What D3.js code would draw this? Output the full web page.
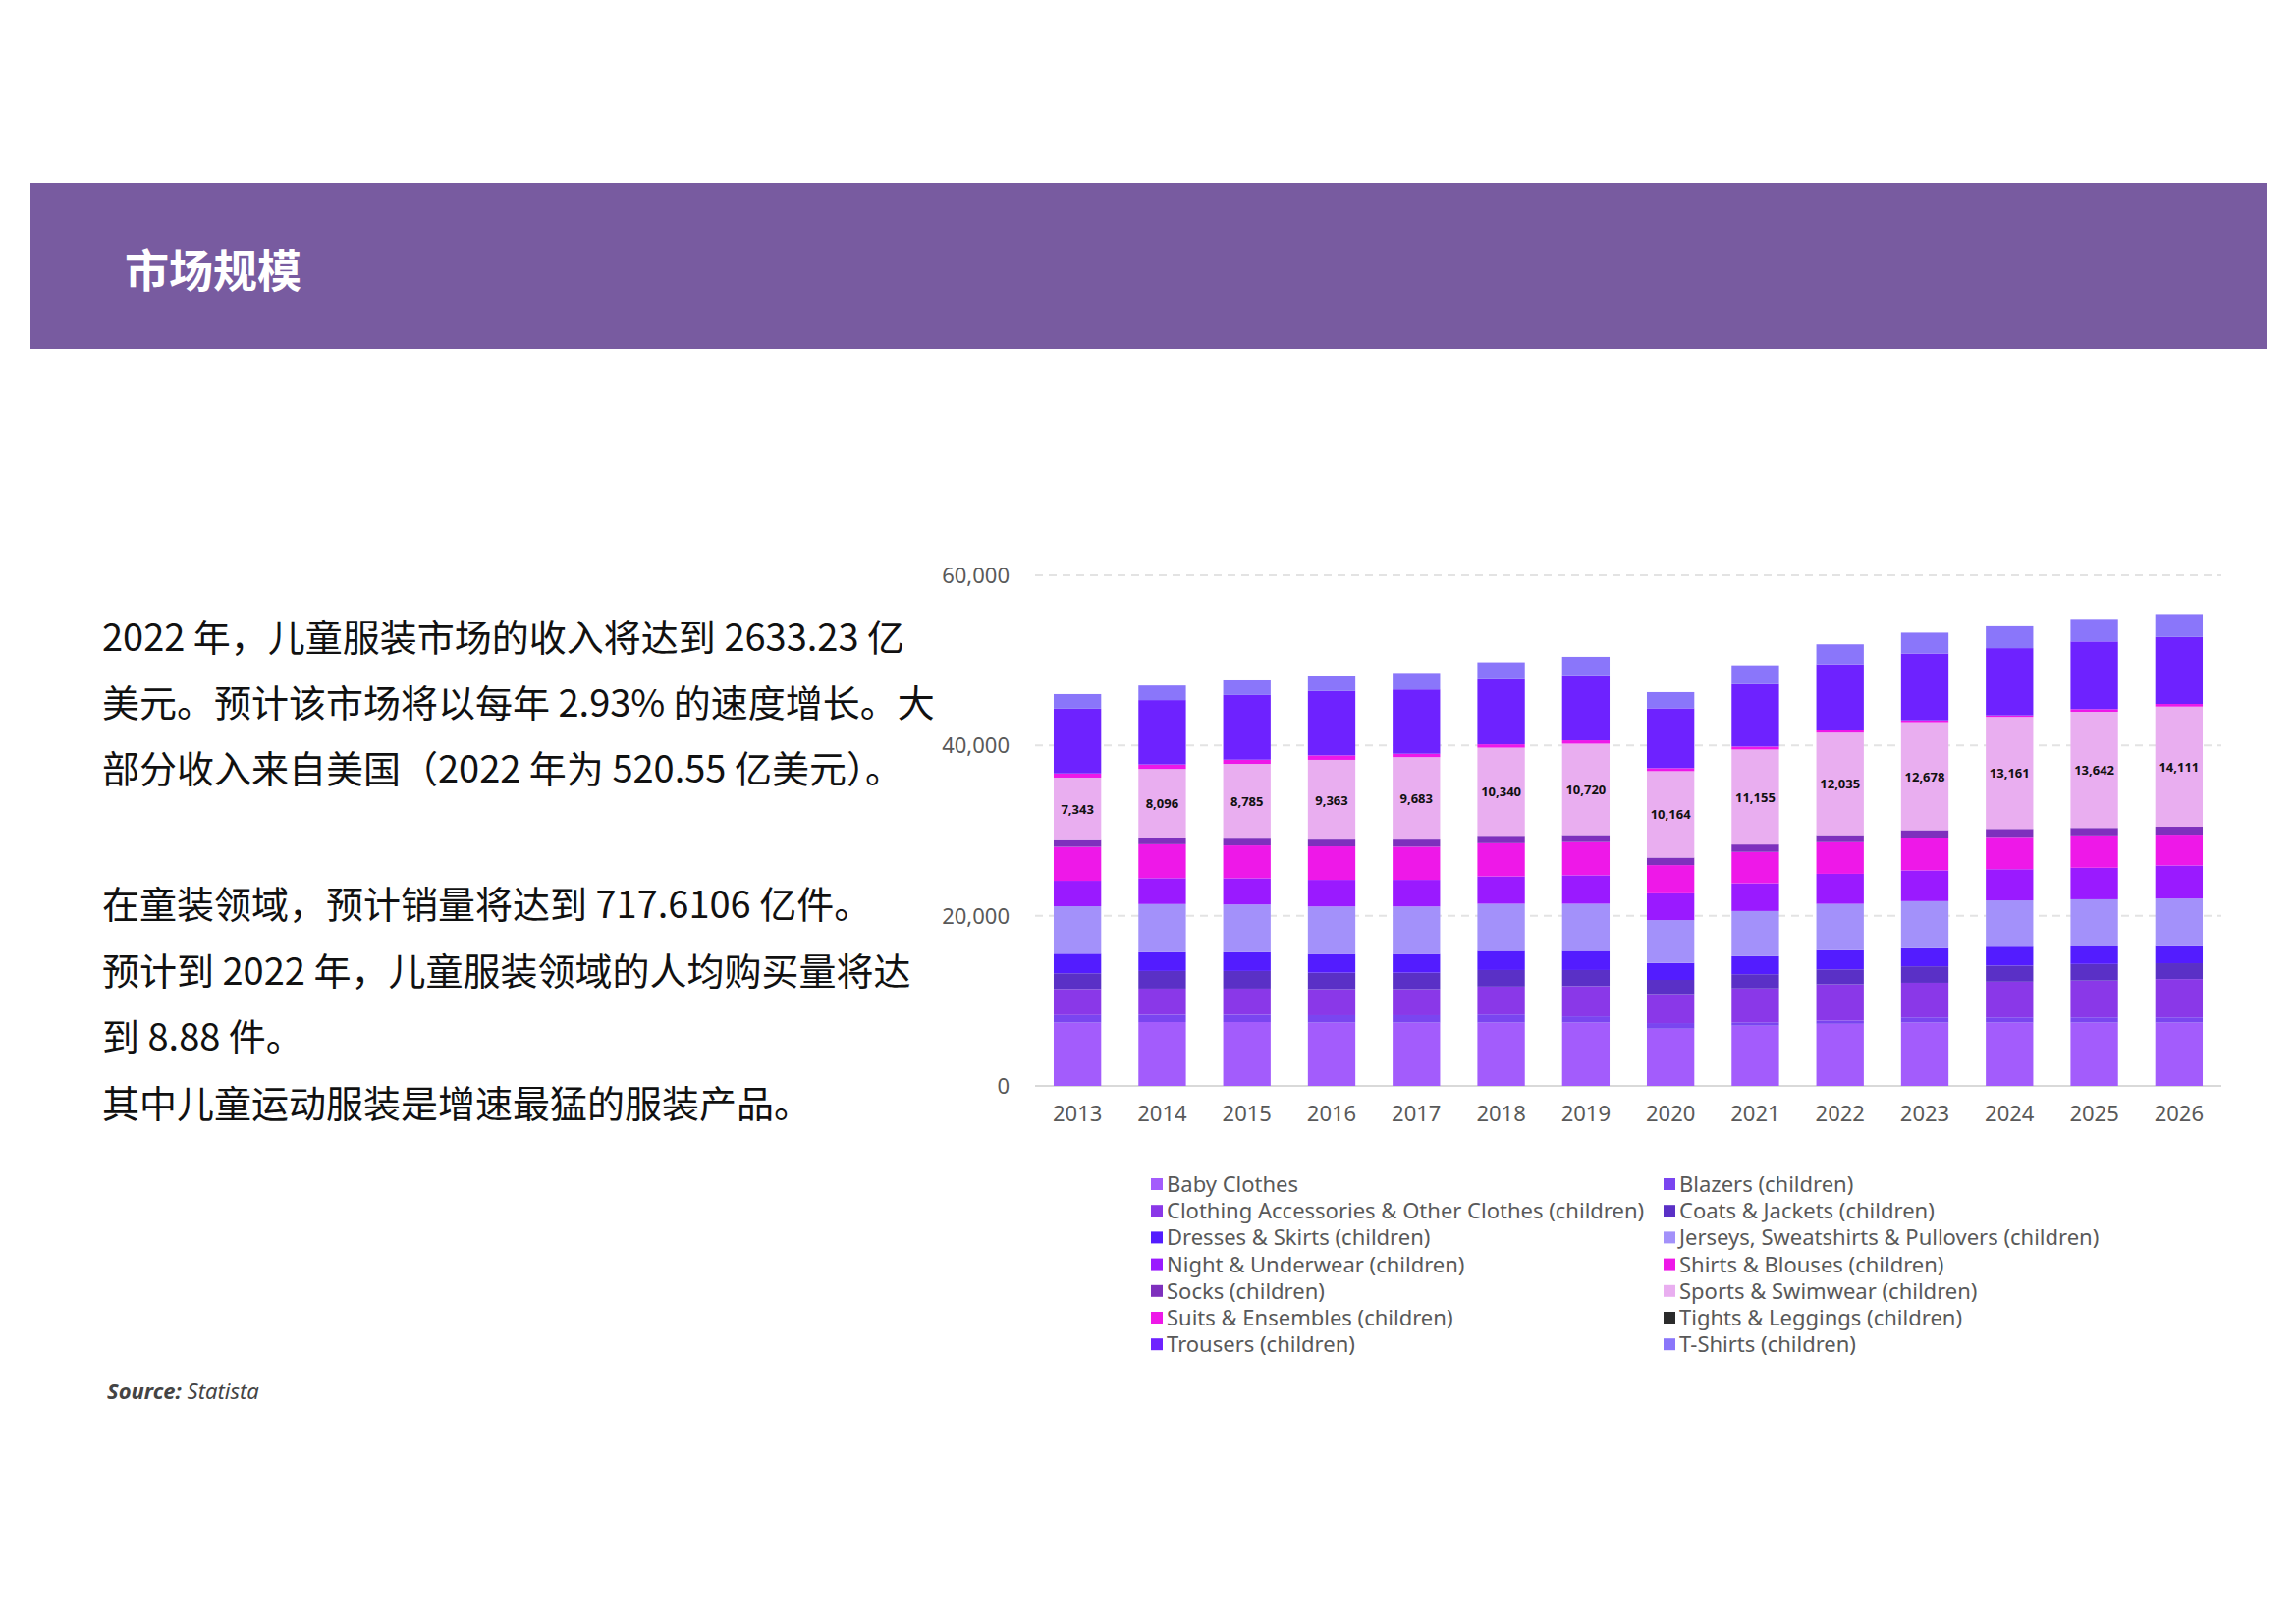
<!DOCTYPE html>
<html><head><meta charset="utf-8">
<script src="https://cdn.jsdelivr.net/npm/d3@7"></script>
<style>
body{margin:0;background:#fff;}
svg{display:block;font-family:"Noto Sans","Noto Sans CJK SC",sans-serif;}
</style></head>
<body><svg id="chart" width="2338" height="1652"></svg>
<script>
const years = ["2013","2014","2015","2016","2017","2018","2019","2020","2021","2022","2023","2024","2025","2026"];
const seriesNames = ["Baby Clothes","Blazers (children)","Clothing Accessories & Other Clothes (children)","Coats & Jackets (children)",
  "Dresses & Skirts (children)","Jerseys, Sweatshirts & Pullovers (children)","Night & Underwear (children)","Shirts & Blouses (children)",
  "Socks (children)","Sports & Swimwear (children)","Suits & Ensembles (children)","Tights & Leggings (children)","Trousers (children)","T-Shirts (children)"];
const colors = ["#a35cfc","#7a45f0","#8a38e8","#5a30c6","#531cff","#a391fa","#9a1aff","#ee18e8","#7e30bd","#e9aef0","#ee18e8","#2b2b2b","#6e22ff","#8a76fa"];

const babyClothes   = [7430,7500,7500,7430,7430,7430,7430,6720,7070,7290,7430,7430,7430,7430];
const blazers       = [900,880,880,880,880,970,750,660,400,400,620,620,620,620];
const accessories   = [3050,3050,3050,3050,3050,3270,3540,3400,3980,4240,4070,4200,4330,4510];
const coats         = [1860,2080,2080,1950,1950,1950,1900,1680,1680,1770,1940,1900,1950,1860];
const dresses       = [2300,2200,2200,2200,2200,2250,2250,1990,2120,2250,2120,2210,2120,2120];
const jerseys       = [5570,5660,5610,5570,5570,5530,5530,5040,5300,5440,5530,5440,5480,5480];
const nightUnder    = [3000,3050,3090,3140,3140,3230,3360,3140,3270,3540,3620,3670,3710,3890];
const shirts        = [3980,3980,3850,3930,3890,3890,3890,3320,3670,3710,3760,3800,3800,3620];
const socks         = [800,750,800,800,840,880,840,880,880,840,970,930,880,930];
const sports        = [7343,8096,8785,9363,9683,10340,10720,10164,11155,12035,12678,13161,13642,14111];
const suits         = [490,530,490,530,400,400,400,350,350,260,220,180,310,310];
const tights        = [0,0,0,0,0,0,0,0,0,0,0,0,0,0];
const trousers      = [7600,7560,7600,7560,7560,7650,7650,7030,7340,7780,7870,7910,7960,7870];
const tshirts       = [1720,1720,1720,1810,1940,1990,2170,1900,2210,2340,2430,2560,2650,2700];
const seriesValues = [babyClothes,blazers,accessories,coats,dresses,jerseys,nightUnder,shirts,socks,sports,suits,tights,trousers,tshirts];
const yTicks = [0,20000,40000,60000];

const textLines1 = ["2022 年，儿童服装市场的收入将达到 2633.23 亿","美元。预计该市场将以每年 2.93% 的速度增长。大","部分收入来自美国（2022 年为 520.55 亿美元）。"];
const textLines2 = ["在童装领域，预计销量将达到 717.6106 亿件。","预计到 2022 年，儿童服装领域的人均购买量将达","到 8.88 件。","其中儿童运动服装是增速最猛的服装产品。"];

const svg = d3.select("#chart");

// header band
svg.append("rect").attr("x",31).attr("y",186).attr("width",2277).attr("height",169).attr("fill","#785ba0");
svg.append("text").attr("x",127).attr("y",293).attr("fill","#fff").attr("font-size",45).attr("font-weight","bold")
  .attr("font-family","Noto Sans CJK SC").text("市场规模");

const tf = "Noto Sans CJK SC";
textLines1.forEach((t,i)=>svg.append("text").attr("x",104).attr("y",663+i*67).attr("font-size",38).attr("font-family",tf).attr("fill","#111").text(t));
textLines2.forEach((t,i)=>svg.append("text").attr("x",104).attr("y",935+i*67.5).attr("font-size",38).attr("font-family",tf).attr("fill","#111").text(t));
const src = svg.append("text").attr("x",109).attr("y",1425).attr("font-size",22).attr("fill","#444").attr("font-style","italic");
src.append("tspan").attr("font-weight","bold").text("Source:");
src.append("tspan").text(" Statista");

// chart
const x = d3.scaleBand().domain(years).range([1054,2262]).paddingInner(0.44).paddingOuter(0.22);
const y = d3.scaleLinear().domain([0,60000]).range([1106,586]);

const grid = svg.append("g");
yTicks.forEach(t=>{
  grid.append("line").attr("x1",1054).attr("x2",2262).attr("y1",y(t)).attr("y2",y(t))
    .attr("stroke",t===0?"#d9d9d9":"#e3e3e3").attr("stroke-width",2).attr("stroke-dasharray",t===0?null:"8,6");
  grid.append("text").attr("x",1028).attr("y",y(t)+8).attr("text-anchor","end").attr("font-size",22).attr("fill","#595959").text(d3.format(",")(t));
});

const rows = years.map((yr,i)=>{const r={year:yr}; seriesNames.forEach((s,j)=>r[s]=seriesValues[j][i]); return r;});
const stacked = d3.stack().keys(seriesNames)(rows);

svg.append("g").selectAll("g").data(stacked).join("g").attr("fill",(d,i)=>colors[i])
  .selectAll("rect").data(d=>d).join("rect")
  .attr("x",d=>x(d.data.year)).attr("width",x.bandwidth())
  .attr("y",d=>y(d[1])).attr("height",d=>Math.max(0,y(d[0])-y(d[1])));

const sportsLayer = stacked[9];
svg.append("g").selectAll("text").data(sportsLayer).join("text")
  .attr("x",d=>x(d.data.year)+x.bandwidth()/2).attr("y",d=>(y(d[0])+y(d[1]))/2+5)
  .attr("text-anchor","middle").attr("font-size",13).attr("font-weight","bold").attr("fill","#111")
  .text(d=>d3.format(",")(d.data["Sports & Swimwear (children)"]));

svg.append("g").attr("transform","translate(0,1106)")
  .call(d3.axisBottom(x).tickSize(0).tickPadding(20))
  .call(g=>g.select(".domain").remove())
  .call(g=>g.selectAll("text").attr("font-size",22).attr("fill","#595959").attr("font-family","Noto Sans"));

// legend
const leg = svg.append("g");
seriesNames.forEach((s,i)=>{
  const col=i%2,row=Math.floor(i/2);
  const lx = col===0?1172:1694, ly = 1206+row*27.2;
  leg.append("rect").attr("x",lx).attr("y",ly-6).attr("width",12).attr("height",12).attr("fill",colors[i]);
  leg.append("text").attr("x",lx+16).attr("y",ly+8).attr("font-size",22).attr("fill","#595959").text(s);
});
</script></body></html>
